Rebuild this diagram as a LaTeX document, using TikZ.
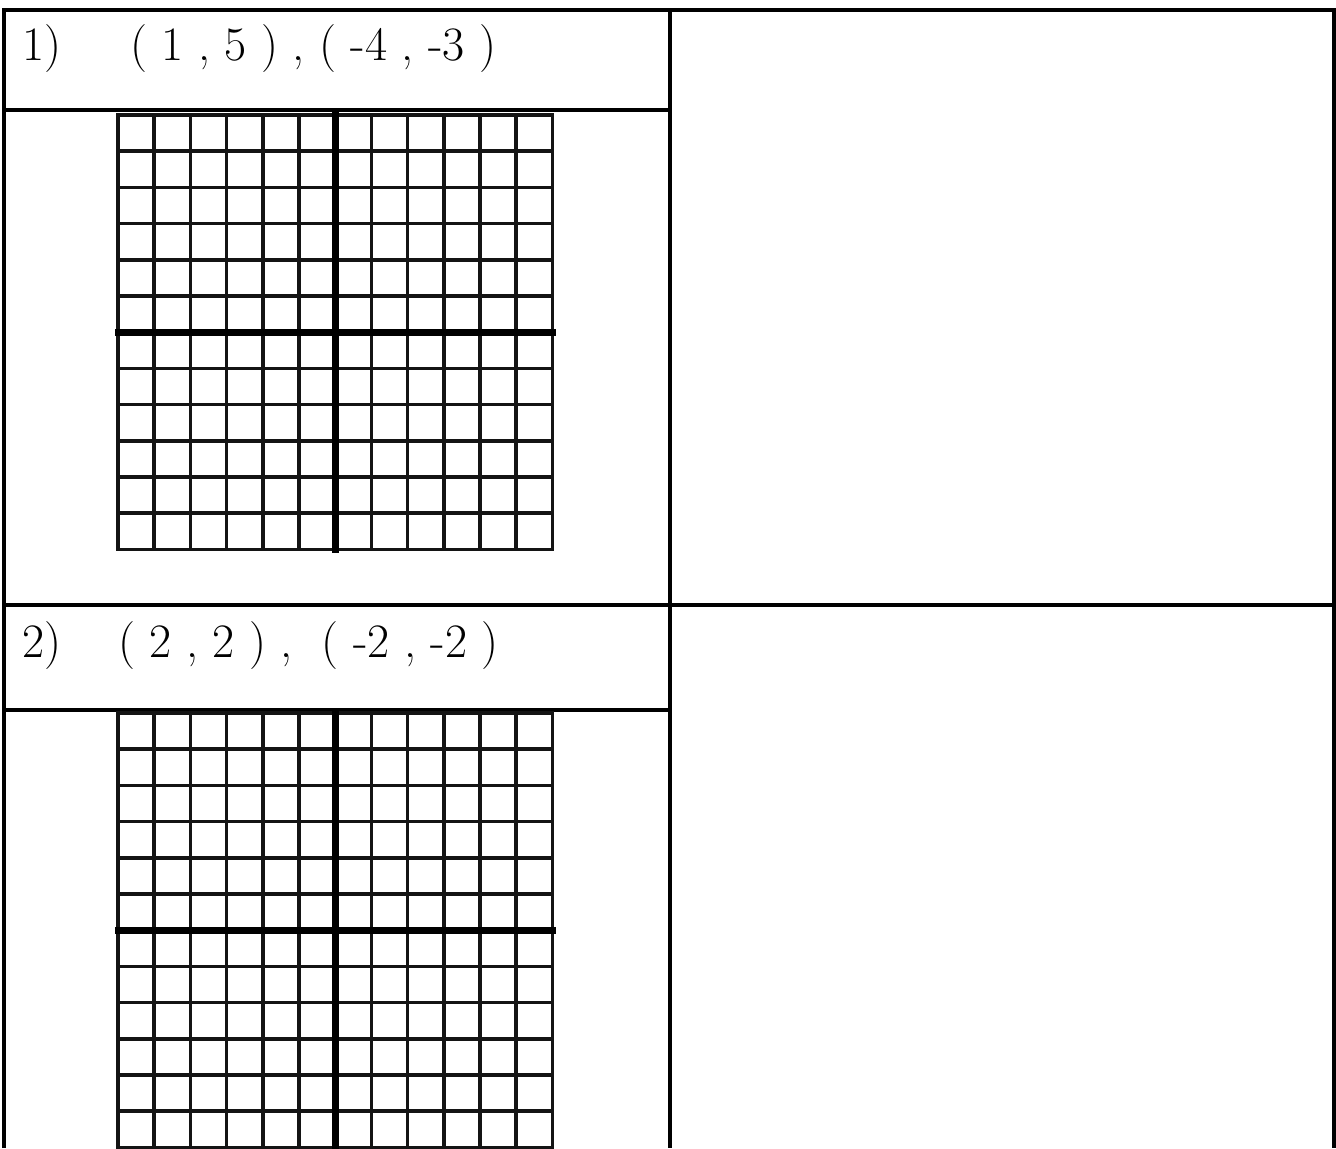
\documentclass[tikz,border=0pt]{standalone}
\usepackage{tikz}
\usetikzlibrary{positioning}
\tikzset{
	rule/.style     ={line width=1.6pt, black},
	gridline/.style ={line width=1.8pt, black!92, line cap=rect},
	axisline/.style ={line width=3.4pt, black, line cap=rect},
	task/.style     ={anchor=west, inner sep=0pt, font=\fontsize{24}{28}\selectfont},
	% 12 x 12 coordinate grid
	quadgrid/.pic={
		\foreach \k in {0,...,12}{
			\draw[gridline] (\k*36.2,0) -- (\k*36.2,434.4);
			\draw[gridline] (0,\k*36.2) -- (434.4,\k*36.2);
		}
		\draw[axisline] (217.2,0) -- (217.2,434.4);
		\draw[axisline] (0,217.2) -- (434.4,217.2);
	},
}

\begin{document}
\begin{tikzpicture}[x=0.5pt, y=-0.5pt]
	\useasboundingbox (0,0) rectangle (1336,1148);
	% table rules
	\draw[rule] (4,1148) -- (4,10) -- (1334,10) -- (1334,1148);
	\draw[rule] (670,10) -- (670,1148);
	\draw[rule] (4,110) -- (670,110);
	\draw[rule] (4,605) -- (1334,605);
	\draw[rule] (4,710) -- (670,710);
	% tasks
	\node[task] (num1) at (22,49) {1)};
	\node[task] (pts1) at (130,49) {( 1 , 5 ) , ( -4 , -3 )};
	\node[task] (num2) at (22,646) {2)};
	\node[task] (pts2) at (118,646) {( 2 , 2 ) ,\ \ ( -2 , -2 )};
	% grids
	\pic at (118,115) {quadgrid};
	\pic at (118,713) {quadgrid};
\end{tikzpicture}
\end{document}
